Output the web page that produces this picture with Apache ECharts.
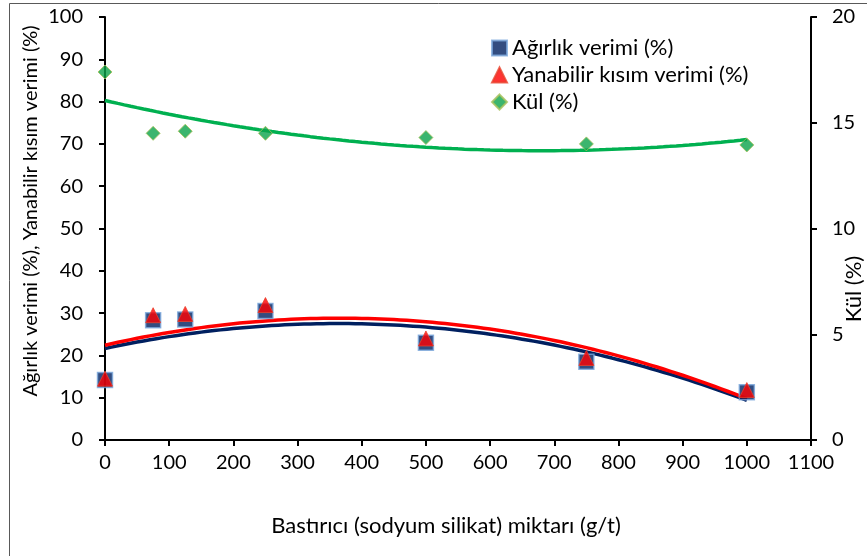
<!DOCTYPE html>
<html>
<head>
<meta charset="utf-8">
<script src="https://cdn.jsdelivr.net/npm/echarts@6/dist/echarts.min.js"></script>
<style>
  html, body { margin: 0; padding: 0; background: #fff; }
  #chart { width: 867px; height: 556px; }
</style>
</head>
<body>
<div id="chart"></div>
<script>
// Sodium silicate depressant dose (g/t)
const doses = [0, 75, 125, 250, 500, 750, 1000];
// Weight yield (%) – left axis
const weightYield = [14.2, 28.3, 28.5, 30.5, 23.0, 18.5, 11.3];
// Combustible yield (%) – left axis
const combustibleYield = [14.5, 29.5, 29.8, 31.9, 24.0, 19.4, 11.8];
// Ash (%) – right axis
const ash = [17.4, 14.5, 14.6, 14.5, 14.3, 14.0, 13.95];

const xAxisRange = [0, 1100, 100];
const leftAxisRange = [0, 100, 10];
const rightAxisRange = [0, 20, 5];

const FONT = 'Lato, "Open Sans", sans-serif';

// Second-order least-squares trendline through the measured points
function quadFit(xs, ys) {
  const n = xs.length;
  let s = [0, 0, 0, 0, 0], t = [0, 0, 0];
  for (let i = 0; i < n; i++) {
    let p = 1;
    for (let k = 0; k < 5; k++) { s[k] += p; p *= xs[i]; }
    t[0] += ys[i]; t[1] += ys[i] * xs[i]; t[2] += ys[i] * xs[i] * xs[i];
  }
  const A = [[s[0], s[1], s[2], t[0]], [s[1], s[2], s[3], t[1]], [s[2], s[3], s[4], t[2]]];
  for (let c = 0; c < 3; c++) {
    for (let r = c + 1; r < 3; r++) {
      const f = A[r][c] / A[c][c];
      for (let k = c; k < 4; k++) A[r][k] -= f * A[c][k];
    }
  }
  const b = [0, 0, 0];
  for (let r = 2; r >= 0; r--) {
    let v = A[r][3];
    for (let k = r + 1; k < 3; k++) v -= A[r][k] * b[k];
    b[r] = v / A[r][r];
  }
  return x => b[0] + b[1] * x + b[2] * x * x;
}

function trend(xs, ys) {
  const f = quadFit(xs, ys);
  const lo = xs[0], hi = xs[xs.length - 1];
  const pts = [];
  for (let x = lo; x <= hi; x += 10) pts.push([x, f(x)]);
  return pts;
}

const pairs = (xs, ys) => xs.map((x, i) => [x, ys[i]]);

const NAVY = '#002060', RED = '#FF0000', GREEN = '#00B050';

const axisBase = {
  axisLine: { show: true, onZero: false, lineStyle: { color: '#000', width: 2 } },
  axisTick: { show: true, inside: false, length: 6, lineStyle: { color: '#000', width: 2 } },
  splitLine: { show: false },
  axisLabel: { color: '#000', fontFamily: FONT, fontSize: 20, formatter: v => String(v) }
};

const titleStyle = (text, size) => ({
  text: text, fill: '#000', fontFamily: FONT, fontSize: size,
  align: 'center', verticalAlign: 'middle'
});

const chart = echarts.init(document.getElementById('chart'), null, { renderer: 'canvas' });

chart.setOption({
  animation: false,
  backgroundColor: '#fff',
  grid: { left: 105, right: 56, top: 17, bottom: 116, containLabel: false },
  legend: {
    orient: 'vertical',
    left: 486,
    top: 31,
    itemWidth: 15,
    itemHeight: 15,
    itemGap: 3,
    textStyle: { color: '#000', fontFamily: FONT, fontSize: 22, lineHeight: 24 },
    data: [
      { name: 'Ağırlık verimi (%)', icon: 'rect' },
      { name: 'Yanabilir kısım verimi (%)', icon: 'triangle' },
      { name: 'Kül (%)', icon: 'diamond' }
    ]
  },
  xAxis: Object.assign({}, axisBase, {
    type: 'value',
    min: xAxisRange[0], max: xAxisRange[1], interval: xAxisRange[2],
    axisLabel: Object.assign({}, axisBase.axisLabel, { margin: 13 })
  }),
  yAxis: [
    Object.assign({}, axisBase, {
      type: 'value', position: 'left',
      min: leftAxisRange[0], max: leftAxisRange[1], interval: leftAxisRange[2],
      axisLabel: Object.assign({}, axisBase.axisLabel, { margin: 22 })
    }),
    Object.assign({}, axisBase, {
      type: 'value', position: 'right',
      min: rightAxisRange[0], max: rightAxisRange[1], interval: rightAxisRange[2],
      axisLabel: Object.assign({}, axisBase.axisLabel, { margin: 21 })
    })
  ],
  graphic: [
    {
      type: 'rect', silent: true, z: 100,
      shape: { x: 9.5, y: 3.5, width: 900, height: 600 },
      style: { fill: 'none', stroke: '#595959', lineWidth: 1 }
    },
    {
      type: 'text', silent: true,
      x: 446, y: 526,
      style: titleStyle('Bastırıcı (sodyum silikat) miktarı (g/t)', 22)
    },
    {
      type: 'text', silent: true,
      x: 31, y: 211, rotation: Math.PI / 2,
      style: titleStyle('Ağırlık verimi (%), Yanabilir kısım verimi (%)', 20)
    },
    {
      type: 'text', silent: true,
      x: 854, y: 289, rotation: Math.PI / 2,
      style: titleStyle('Kül (%)', 22)
    }
  ],
  series: [
    {
      name: 'ash-trend', type: 'line', yAxisIndex: 1, data: trend(doses, ash),
      showSymbol: false, smooth: false, lineStyle: { color: GREEN, width: 3.5 }, z: 2
    },
    {
      name: 'weight-trend', type: 'line', yAxisIndex: 0, data: trend(doses, weightYield),
      showSymbol: false, lineStyle: { color: NAVY, width: 3.5 }, z: 2
    },
    {
      name: 'combustible-trend', type: 'line', yAxisIndex: 0, data: trend(doses, combustibleYield),
      showSymbol: false, lineStyle: { color: RED, width: 3.5 }, z: 3
    },
    {
      name: 'Ağırlık verimi (%)', type: 'scatter', yAxisIndex: 0, data: pairs(doses, weightYield),
      symbol: 'rect', symbolSize: 15,
      itemStyle: { color: NAVY, borderColor: '#7BA7DC', borderWidth: 1.5 }, z: 5
    },
    {
      name: 'Yanabilir kısım verimi (%)', type: 'scatter', yAxisIndex: 0, data: pairs(doses, combustibleYield),
      symbol: 'triangle', symbolSize: 15,
      itemStyle: { color: RED, borderColor: '#E8402A', borderWidth: 1 }, z: 6
    },
    {
      name: 'Kül (%)', type: 'scatter', yAxisIndex: 1, data: pairs(doses, ash),
      symbol: 'diamond', symbolSize: 14,
      itemStyle: { color: '#0BA24A', borderColor: '#A8C05A', borderWidth: 1 }, z: 5
    }
  ]
});
</script>
</body>
</html>
